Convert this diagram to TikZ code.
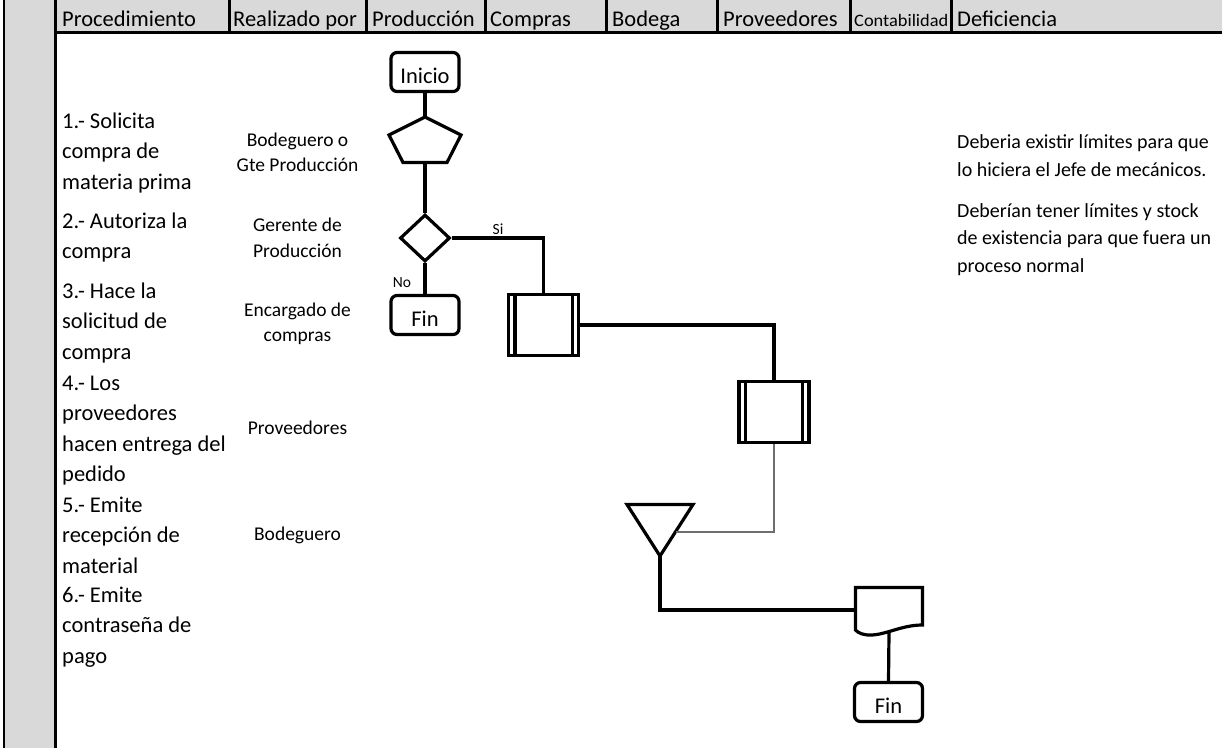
\documentclass[tikz,border=0pt]{standalone}
\usepackage{fontspec}
\setmainfont{Carlito}
\usetikzlibrary{shapes.geometric}
\definecolor{hdrgray}{RGB}{217,217,217}
\definecolor{thingray}{RGB}{110,110,110}
\tikzset{
  hdr/.style={anchor=base west, inner sep=0pt, font=\fontsize{22.5}{27}\selectfont},
  lt/.style={anchor=base west, inner sep=0pt, font=\fontsize{22.5}{27}\selectfont},
  rt/.style={anchor=base, inner sep=0pt, font=\fontsize{19.5}{24}\selectfont},
  dt/.style={anchor=base west, inner sep=0pt, font=\fontsize{20}{24}\selectfont},
  lbl/.style={inner sep=0pt, font=\fontsize{15.5}{18}\selectfont},
  shp/.style={draw, line width=3.2pt},
  term/.style={shp, rounded corners=6pt, minimum width=68pt, minimum height=39pt,
    inner sep=0pt, text height=23.5pt, text depth=0pt, font=\fontsize{22.5}{27}\selectfont},
  dia/.style={shp, diamond, minimum width=50pt, minimum height=47pt, inner sep=0pt},
  proc/.style={shp, minimum width=70pt, minimum height=61pt, inner sep=0pt},
  con/.style={line width=3.2pt},
  thincon/.style={line width=1.2pt, draw=thingray}
}
\begin{document}
\begin{tikzpicture}[x=1pt,y=-1pt]
\useasboundingbox (0,0) rectangle (1222,748);
% table frame
\fill[hdrgray] (4,0) rectangle (55.5,748);
\fill[hdrgray] (55.5,0) rectangle (1222,32.5);
\draw[line width=2pt] (4,0) -- (4,748);
\draw[line width=3.5pt] (55.5,0) -- (55.5,748);
\draw[line width=3.5pt] (55.5,32.5) -- (1222,32.5);
\foreach \x in {229,366,485,606,717,850,951} \draw[line width=3pt] (\x,0) -- (\x,32.5);
% header
\node[hdr] (h1) at (62,26) {Procedimiento};
\node[hdr] (h2) at (233,26) {Realizado por};
\node[hdr] (h3) at (372,26) {Producción};
\node[hdr] (h4) at (490,26) {Compras};
\node[hdr] (h5) at (612,26) {Bodega};
\node[hdr] (h6) at (723,26) {Proveedores};
\node[anchor=base west, inner sep=0pt, font=\fontsize{17.5}{20}\selectfont] (h7) at (854,26) {\scalebox{1.05}[1]{Contabilidad}};
\node[hdr] (h8) at (957,26) {Deficiencia};
% procedure column
\foreach \y/\t [count=\i] in {
  128/1.- Solicita, 158.5/compra de, 189/materia prima,
  228/2.- Autoriza la, 258.5/compra,
  298/3.- Hace la, 328.5/solicitud de, 359/compra,
  390/4.- Los, 420.5/proveedores, 451/hacen entrega del, 481.5/pedido,
  512/5.- Emite, 542.5/recepción de, 573/material,
  602/6.- Emite, 632.5/contraseña de, 663/pago}
  \node[lt] (L\i) at (62,\y) {\t};
% realizado por column
\foreach \y/\t [count=\i] in {
  146.5/Bodeguero o, 171.5/Gte Producción,
  231.5/Gerente de, 257.5/Producción,
  316.5/Encargado de, 341.5/compras,
  434.5/Proveedores, 540.5/Bodeguero}
  \node[rt] (R\i) at (297.5,\y) {\t};
% deficiencia column
\node[dt] (d1) at (957,148) {Deberia existir límites para que};
\node[dt] (d2) at (957,176) {lo hiciera el Jefe de mecánicos.};
\node[dt] (d3) at (957,217) {Deberían tener límites y stock};
\node[dt] (d4) at (957,244.5) {de existencia para que fuera un};
\node[dt] (d5) at (957,272) {proceso normal};
% flowchart shapes
\node[term] (ini) at (425,72) {Inicio};
\coordinate (pt) at (425,117);
\coordinate (pb) at (425,162.5);
\draw[shp] (pt) -- (461,135) -- (447,162.5) -- (403,162.5) -- (389,135) -- cycle;
\node[dia] (dec) at (425,238) {};
\node[term] (fin1) at (425,315) {Fin};
\node[proc] (p1) at (543.5,325) {};
\draw[shp] ([xshift=8pt]p1.north west) -- ([xshift=8pt]p1.south west);
\draw[shp] ([xshift=-8pt]p1.north east) -- ([xshift=-8pt]p1.south east);
\node[proc] (p2) at (774,412) {};
\draw[shp] ([xshift=8pt]p2.north west) -- ([xshift=8pt]p2.south west);
\draw[shp] ([xshift=-8pt]p2.north east) -- ([xshift=-8pt]p2.south east);
\coordinate (tl) at (627,504.5);
\coordinate (tr) at (693,504.5);
\coordinate (tb) at (660,556);
\coordinate (te) at (675.5,532);
\draw[shp] (tl) -- (tr) -- (tb) -- cycle;
\coordinate (dw) at (855.5,610);
\coordinate (db) at (889,632);
\draw[shp] (855.5,587.5) -- (922.5,587.5) -- (922.5,625)
  .. controls (902,625) and (888,634) .. (872,635)
  .. controls (864,635.5) and (858,633) .. (855.5,630) -- cycle;
\node[term] (fin2) at (888.5,702) {Fin};
% connectors
\draw[con] (ini.south) -- (pt);
\draw[con] (pb) -- (dec.north);
\draw[con] (dec.south) -- (fin1.north);
\draw[con] (dec.east) -| (p1.north);
\draw[con] (p1.east) -| (p2.north);
\draw[thincon] (p2.south) |- (te);
\draw[con] (tb) |- (dw);
\draw[con] (db) -- (fin2.north);
% labels
\node[lbl] (no) at (402,283) {No};
\node[lbl] (si) at (498,229) {Si};
\end{tikzpicture}
\end{document}
